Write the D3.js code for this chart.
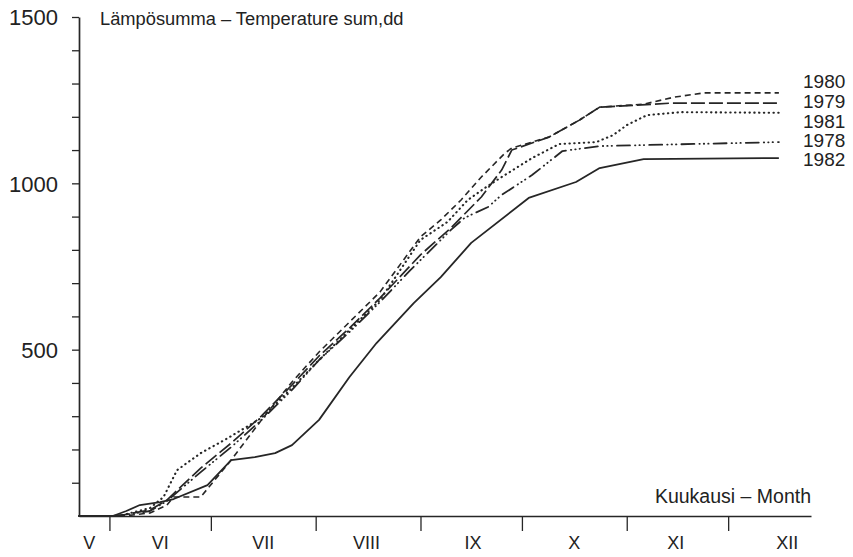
<!DOCTYPE html>
<html>
<head>
<meta charset="utf-8">
<script src="https://cdn.jsdelivr.net/npm/d3@7/dist/d3.min.js"></script>
<style>
  html, body { margin: 0; padding: 0; background: #fff; }
  svg { display: block; }
  text { font-family: "Liberation Sans", Arial, Helvetica, sans-serif; fill: #222; }
</style>
</head>
<body>
<svg id="chart" width="853" height="557"></svg>
<script>
// ---- data (x = day of year, y = temperature sum, degree days) ----
const years = ["1980", "1979", "1981", "1978", "1982"];

const days1980 = [143,153,156,164,169,171,179,188,197,206,214,223,232,244,250,256,262,269,271,282,291,297,310,319,328,350];
const vals1980 = [0,0,0,9,33,57,57,168,289,403,493,583,673,839,890,950,1019,1091,1106,1139,1190,1229,1238,1259,1272,1272];

const days1979 = [143,153,156,164,169,179,188,197,206,214,223,232,244,253,262,268,271,282,291,297,308,318,350];
const vals1979 = [0,0,3,18,48,144,219,301,394,481,565,655,785,866,959,1040,1100,1139,1190,1229,1235,1241,1241];

const days1981 = [143,153,156,164,168,172,179,187,197,206,214,223,232,244,252,258,263,268,277,285,296,301,305,311,321,350];
const vals1981 = [0,0,3,24,57,138,189,234,295,385,469,559,649,830,884,950,986,1019,1076,1118,1124,1145,1175,1205,1214,1212];

const days1978 = [143,153,156,164,169,179,188,197,206,214,223,232,241,253,257,264,268,277,286,297,350];
const vals1978 = [0,0,3,15,45,132,207,289,379,469,553,643,739,860,896,929,965,1025,1097,1112,1124];

const days1982 = [143,153,157,161,167,171,181,188,195,201,206,214,223,231,242,250,259,276,290,297,310,350];
const vals1982 = [0,0,15,33,42,51,93,168,177,189,213,289,418,520,640,718,821,956,1004,1046,1073,1076];

const monthStarts = [152,182,213,244,274,305,335];
const monthLabels = ["V","VI","VII","VIII","IX","X","XI","XII"];
const monthLabelDays = [146,167,197.5,228,259.5,289.5,319.5,352.5];
const yTicks = [100,200,300,400,500,600,700,800,900,1000,1100,1200,1300,1400,1500];
const yLabelTicks = [500,1000,1500];

const titleText = "Lämpösumma – Temperature sum,dd";
const xTitleText = "Kuukausi – Month";

// ---- styles ----
const seriesDays = {"1980": days1980, "1979": days1979, "1981": days1981, "1978": days1978, "1982": days1982};
const seriesVals = {"1980": vals1980, "1979": vals1979, "1981": vals1981, "1978": vals1978, "1982": vals1982};
const dashes = {
  "1980": "6,4",
  "1979": "14,4",
  "1981": "0.4,4.4",
  "1978": "13,5,0.4,4,0.4,4,0.4,5",
  "1982": null
};
const caps = {"1980": "butt", "1979": "butt", "1981": "round", "1978": "round", "1982": "butt"};
const widths = {"1980": 1.6, "1979": 1.7, "1981": 2.1, "1978": 1.8, "1982": 1.8};
const legendY = {"1980": 88, "1979": 108, "1981": 128, "1978": 147, "1982": 166};

const svg = d3.select("#chart");
const ink = "#262626";

const x = d3.scaleLinear().domain([143, 359.5]).range([79, 811]);
const y = d3.scaleLinear().domain([0, 1500]).range([516, 17]);

// y axis
const yAxis = d3.axisLeft(y)
  .tickValues(yTicks)
  .tickSize(7)
  .tickSizeOuter(0)
  .tickPadding(14)
  .tickFormat(d => yLabelTicks.includes(d) ? d : "");
const gy = svg.append("g").attr("transform", "translate(79,0)").call(yAxis);
gy.select(".domain").attr("stroke", ink).attr("stroke-width", 1.7);
gy.selectAll(".tick line").attr("stroke", ink).attr("stroke-width", 1.3);
gy.selectAll(".tick text")
  .attr("font-size", 22)
  .attr("fill", "#222")
  .attr("dy", "0.36em")
  .style("font-family", "'Liberation Sans', Arial, sans-serif");

// x axis
const xAxis = d3.axisBottom(x)
  .tickValues(monthStarts)
  .tickSize(15)
  .tickSizeOuter(0)
  .tickFormat("");
const gx = svg.append("g").attr("transform", "translate(0,516)").call(xAxis);
gx.select(".domain").attr("stroke", ink).attr("stroke-width", 1.7);
gx.selectAll(".tick line").attr("stroke", ink).attr("stroke-width", 1.3);

svg.append("g").selectAll("text")
  .data(monthLabels)
  .join("text")
  .attr("x", (d, i) => x(monthLabelDays[i]))
  .attr("y", 549)
  .attr("text-anchor", "middle")
  .attr("font-size", 18)
  .text(d => d);

// titles
svg.append("text").attr("x", 100).attr("y", 25).attr("font-size", 18.3).text(titleText);
svg.append("text").attr("x", 811).attr("y", 503).attr("text-anchor", "end").attr("font-size", 19.5).text(xTitleText);

// lines
const line = d3.line().x(d => x(d[0])).y(d => y(d[1]));
years.forEach(yr => {
  const pts = seriesDays[yr].map((d, i) => [d, seriesVals[yr][i]]);
  svg.append("path")
    .datum(pts)
    .attr("fill", "none")
    .attr("stroke", ink)
    .attr("stroke-width", widths[yr])
    .attr("stroke-dasharray", dashes[yr])
    .attr("stroke-linecap", caps[yr])
    .attr("stroke-linejoin", "round")
    .attr("d", line);
  svg.append("text")
    .attr("x", 803)
    .attr("y", legendY[yr])
    .attr("font-size", 19)
    .text(yr);
});
</script>
</body>
</html>
